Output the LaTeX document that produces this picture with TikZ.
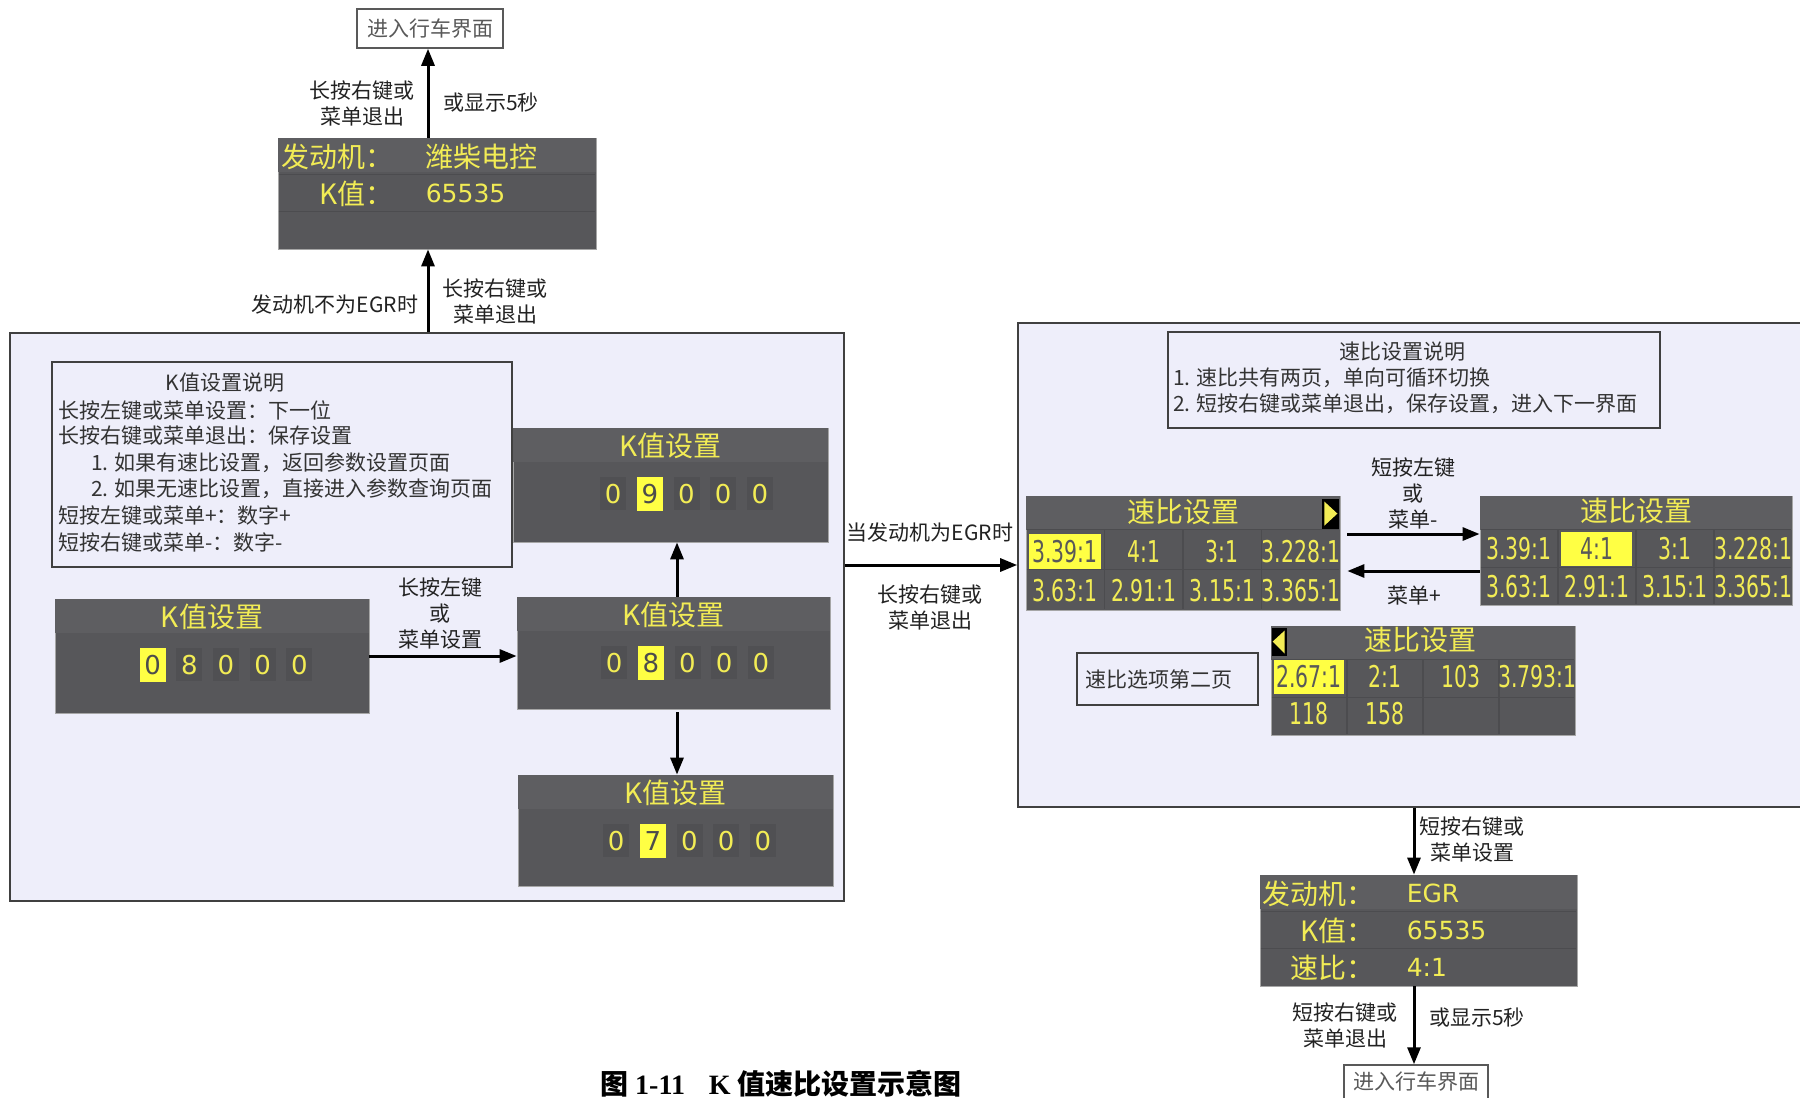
\documentclass[tikz,border=0pt]{standalone}
\usepackage{fontspec}
\setmainfont{Noto Sans CJK SC}
\newfontfamily\lcdf{DejaVu Sans}
\newfontfamily\lcdn[FakeStretch=0.68]{DejaVu Sans}
\newfontfamily\capser{Liberation Serif}
\usetikzlibrary{arrows.meta,calc}
\definecolor{panelbg}{HTML}{EEEEFA}
\definecolor{lcdbg}{HTML}{57575A}
\definecolor{lcdband}{HTML}{5E5E61}
\definecolor{lcdyel}{HTML}{F2EC55}
\definecolor{hlyel}{HTML}{FFFF44}
\definecolor{cellbg}{HTML}{505053}
\definecolor{lcdsep}{HTML}{4C4C4F}
\definecolor{labeltxt}{HTML}{222222}
\definecolor{desctxt}{HTML}{333333}
\tikzset{
  arr/.style={draw=black, line width=3pt, -{Triangle[length=17pt,width=13pt]}},
  lbl/.style={text=labeltxt, font=\fontsize{21}{26}\selectfont, align=center, inner sep=0pt},
  bigbox/.style={draw=black!75, line width=1.6pt, fill=panelbg, inner sep=0pt},
  descbox/.style={draw=black!75, line width=1.5pt, fill=panelbg, inner sep=0pt},
  desctext/.style={text=desctxt, font=\fontsize{21}{26}\selectfont, inner sep=0pt, anchor=west},
  exitbox/.style={draw=black!65, line width=1.5pt, fill=white, text=black!65, font=\fontsize{21}{25}\selectfont, inner sep=0pt},
  lcdpanel/.style={fill=lcdbg, draw=black!35, line width=0.8pt, inner sep=0pt},
  lcdtitle/.style={text=lcdyel, font=\fontsize{28}{30}\selectfont, inner sep=0pt},
  lcdlab/.style={text=lcdyel, font=\fontsize{28}{30}\selectfont, inner sep=0pt},
  lcdval/.style={text=lcdyel, font=\lcdf\fontsize{25}{28}\selectfont, inner sep=0pt, anchor=west},
  digoff/.style={fill=cellbg, text=lcdyel, font=\lcdf\fontsize{26}{28}\selectfont, minimum width=26pt, minimum height=33pt, inner sep=0pt},
  digon/.style={fill=hlyel, text=black!70, font=\lcdf\fontsize{26}{28}\selectfont, minimum width=26pt, minimum height=34pt, inner sep=0pt},
  scell/.style={text=lcdyel, font=\lcdn\fontsize{30}{32}\selectfont, inner sep=0pt},
  scellon/.style={fill=hlyel, text=black!65, font=\lcdn\fontsize{30}{32}\selectfont, inner sep=0pt},
  sepline/.style={draw=lcdsep, line width=1.5pt}
}
\newcommand{\lcdbox}[5]{%
  \node[lcdpanel, minimum width=#4pt, minimum height=#5pt] (#1) at (#2,#3) {};
  \fill[lcdband] ($(#1.north west)+(0.8,0.8)$) rectangle ($(#1.north east)+(-0.8,34)$);
}
\newcommand{\kdig}[4]{%
  \foreach \d [count=\i] in {#2}{%
    \ifnum\i=#3\relax
      \node[digon] (#1d\i) at ($(#1.north)+({#4+(\i-3)*36.7},66)$) {\d};
    \else
      \node[digoff] (#1d\i) at ($(#1.north)+({#4+(\i-3)*36.7},66)$) {\d};
    \fi}}
\newcommand{\srow}[6]{%
  \foreach \t [count=\i] in {#3}{%
    \ifnum\i=#4\relax
      \node[scellon, minimum width=#5pt, minimum height=#6pt] (#1r#2c\i) at ($(#1.north west)!{(\i-0.5)/4}!(#1.north east)+(0,#2)$) {\t};
    \else
      \node[scell] (#1r#2c\i) at ($(#1.north west)!{(\i-0.5)/4}!(#1.north east)+(0,#2)$) {\t};
    \fi}}
\newcommand{\sgrid}[2]{%
  \draw[sepline] ($(#1.north west)+(1,34)$) -- ($(#1.north east)+(-1,34)$);
  \draw[sepline] ($(#1.north west)+(1,#2)$) -- ($(#1.north east)+(-1,#2)$);
  \foreach \k in {1,2,3}{
    \draw[sepline] ($(#1.north west)!{\k/4}!(#1.north east)+(0,34)$) -- ($(#1.south west)!{\k/4}!(#1.south east)+(0,-1)$);}
}
\begin{document}
\begin{tikzpicture}[x=1pt,y=-1pt]
\useasboundingbox (0,0) rectangle (1800,1098);

% ---------------- big panels ----------------
\node[bigbox, minimum width=834pt, minimum height=568pt] (bigL) at (427,617) {};
\node[bigbox, minimum width=792pt, minimum height=484pt] (bigR) at (1414,565) {};

% ---------------- top part ----------------
\node[exitbox, minimum width=146pt, minimum height=39pt] (top1) at (430,28.5) {进入行车界面};
\lcdbox{eng}{437}{193.5}{318}{111}
\draw[sepline, line width=1pt] ($(eng.north west)+(1,37)$) -- ($(eng.north east)+(-1,37)$);
\draw[sepline, line width=1pt] ($(eng.north west)+(1,74)$) -- ($(eng.north east)+(-1,74)$);
\node[lcdlab, anchor=west] (engl1) at ($(eng.north west)+(4,19)$) {发动机：};
\node[lcdlab, anchor=east] (engl2) at ($(eng.north west)+(116,56)$) {K值：};
\node[lcdlab, anchor=west] (engv1) at ($(eng.north west)+(148,19)$) {潍柴电控};
\node[lcdval] (engv2) at ($(eng.north west)+(148,56)$) {65535};

\coordinate (ax1) at (428,0);
\draw[arr] (ax1 |- eng.north) -- (ax1 |- top1.south);
\draw[arr] (ax1 |- bigL.north) -- (ax1 |- eng.south);
\node[lbl] (la1) at (362,103) {长按右键或\\菜单退出};
\node[lbl] (la2) at (491,103) {或显示5秒};
\node[lbl] (la3) at (335,305) {发动机不为EGR时};
\node[lbl] (la4) at (495,301) {长按右键或\\菜单退出};

% ---------------- left panel content ----------------
\node[descbox, minimum width=460pt, minimum height=205pt] (kdesc) at (282,464.5) {};
\node[desctext, anchor=center] (kdt) at (225,383) {K值设置说明};
\node[desctext] (kd1) at (58,410) {长按左键或菜单设置：下一位};
\node[desctext] (kd2) at (58,436) {长按右键或菜单退出：保存设置};
\node[desctext] (kd3) at (91,463) {1. 如果有速比设置，返回参数设置页面};
\node[desctext] (kd4) at (91,489) {2. 如果无速比设置，直接进入参数查询页面};
\node[desctext] (kd5) at (58,515) {短按左键或菜单+：数字+};
\node[desctext] (kd6) at (58,542) {短按右键或菜单-：数字-};

\lcdbox{p9}{670.5}{485}{315}{114}
\node[lcdtitle] (p9t) at ($(p9.north)+(0,18)$) {K值设置};
\kdig{p9}{0,9,0,0,0}{2}{16}

\lcdbox{p8l}{212}{656}{314}{114}
\node[lcdtitle] (p8lt) at ($(p8l.north)+(0,18)$) {K值设置};
\kdig{p8l}{0,8,0,0,0}{1}{14}

\lcdbox{p8m}{673.5}{653}{313}{112}
\node[lcdtitle] (p8mt) at ($(p8m.north)+(0,18)$) {K值设置};
\kdig{p8m}{0,8,0,0,0}{2}{14}

\lcdbox{p7}{675.5}{830.5}{315}{111}
\node[lcdtitle] (p7t) at ($(p7.north)+(0,18)$) {K值设置};
\kdig{p7}{0,7,0,0,0}{2}{14}

\coordinate (akx) at (677,0);
\draw[arr] (p8l.east) -- (p8l.east -| p8m.west);
\node[lbl] (lk1) at (440,613) {长按左键\\或\\菜单设置};
\draw[arr] (akx |- p8m.north) -- (akx |- p9.south);
\draw[arr] ($(akx |- p8m.south)+(0,3)$) -- (akx |- p7.north);

% ---------------- middle arrow ----------------
\draw[arr] (bigL.east |- bigR.west) -- (bigR.west);
\node[lbl] (lm1) at (930,533) {当发动机为EGR时};
\node[lbl] (lm2) at (930,607) {长按右键或\\菜单退出};

% ---------------- right panel content ----------------
\node[descbox, minimum width=492pt, minimum height=96pt] (sdesc) at (1414,380) {};
\node[desctext, anchor=center] (sdt) at (1402,352) {速比设置说明};
\node[desctext] (sd1) at (1173,378) {1. 速比共有两页，单向可循环切换};
\node[desctext] (sd2) at (1173,404) {2. 短按右键或菜单退出，保存设置，进入下一界面};

\lcdbox{s1}{1183}{553}{314}{114}
\sgrid{s1}{74}
\node[lcdtitle] (s1t) at ($(s1.north)+(0,16)$) {速比设置};
\fill[black] ($(s1.north east)+(-18,3)$) rectangle ($(s1.north east)+(-1,33)$);
\fill[lcdyel] ($(s1.north east)+(-16,6)$) -- ($(s1.north east)+(-3,18)$) -- ($(s1.north east)+(-16,30)$) -- cycle;
\srow{s1}{56}{3.39:1,4:1,3:1,3.228:1}{1}{72}{35}
\srow{s1}{95}{3.63:1,2.91:1,3.15:1,3.365:1}{0}{72}{35}

\lcdbox{s2}{1636}{550.5}{312}{109}
\sgrid{s2}{72}
\node[lcdtitle] (s2t) at ($(s2.north)+(0,15)$) {速比设置};
\srow{s2}{53}{3.39:1,4:1,3:1,3.228:1}{2}{71}{34}
\srow{s2}{91}{3.63:1,2.91:1,3.15:1,3.365:1}{0}{71}{34}

\coordinate (sy1) at (0,534);
\coordinate (sy2) at (0,571);
\draw[arr] ($(s1.east |- sy1)+(7,0)$) -- (s2.west |- sy1);
\draw[arr] (s2.west |- sy2) -- ($(s1.east |- sy2)+(7,0)$);
\node[lbl] (ls1) at (1413,493) {短按左键\\或\\菜单-};
\node[lbl] (ls2) at (1414,596) {菜单+};

\lcdbox{s3}{1423}{680.5}{304}{109}
\sgrid{s3}{72}
\node[lcdtitle] (s3t) at ($(s3.north)+(-3,14)$) {速比设置};
\fill[black] ($(s3.north west)+(1,2)$) rectangle ($(s3.north west)+(16,30)$);
\fill[lcdyel] ($(s3.north west)+(14,5)$) -- ($(s3.north west)+(2,16)$) -- ($(s3.north west)+(14,28)$) -- cycle;
\srow{s3}{51}{2.67:1,2:1,103,3.793:1}{1}{70}{34}
\srow{s3}{88}{118,158}{0}{70}{34}

\node[descbox, minimum width=181pt, minimum height=52pt] (page2) at (1167.5,679) {};
\node[desctext] (p2t) at (1085,679) {速比选项第二页};

% ---------------- bottom right ----------------
\lcdbox{egr}{1418.5}{930.5}{317}{111}
\draw[sepline, line width=1pt] ($(egr.north west)+(1,37)$) -- ($(egr.north east)+(-1,37)$);
\draw[sepline, line width=1pt] ($(egr.north west)+(1,74)$) -- ($(egr.north east)+(-1,74)$);
\node[lcdlab, anchor=west] (egl1) at ($(egr.north west)+(3,19)$) {发动机：};
\node[lcdlab, anchor=east] (egl2) at ($(egr.north west)+(115,56)$) {K值：};
\node[lcdlab, anchor=east] (egl3) at ($(egr.north west)+(115,93)$) {速比：};
\node[lcdval] (egv1) at ($(egr.north west)+(147,19)$) {EGR};
\node[lcdval] (egv2) at ($(egr.north west)+(147,56)$) {65535};
\node[lcdval] (egv3) at ($(egr.north west)+(147,93)$) {4:1};

\node[exitbox, minimum width=144pt, minimum height=40pt] (bot) at (1416,1085) {};
\node[text=black!65, font=\fontsize{21}{25}\selectfont, inner sep=0pt] (bott) at (1416,1082) {进入行车界面};

\draw[arr] (bigR.south) -- (bigR.south |- egr.north);
\draw[arr] (bigR.south |- egr.south) -- (bigR.south |- bot.north);
\node[lbl] (le1) at (1472,839) {短按右键或\\菜单设置};
\node[lbl] (le2) at (1345,1025) {短按右键或\\菜单退出};
\node[lbl] (le3) at (1477,1018) {或显示5秒};

% ---------------- caption ----------------
\node[inner sep=0pt, text=black, font=\fontsize{28}{32}\selectfont\bfseries] (cap) at (781,1084)
  {图 {\capser 1-11}\hspace{24pt}{\capser K} 值速比设置示意图};
\end{tikzpicture}
\end{document}
